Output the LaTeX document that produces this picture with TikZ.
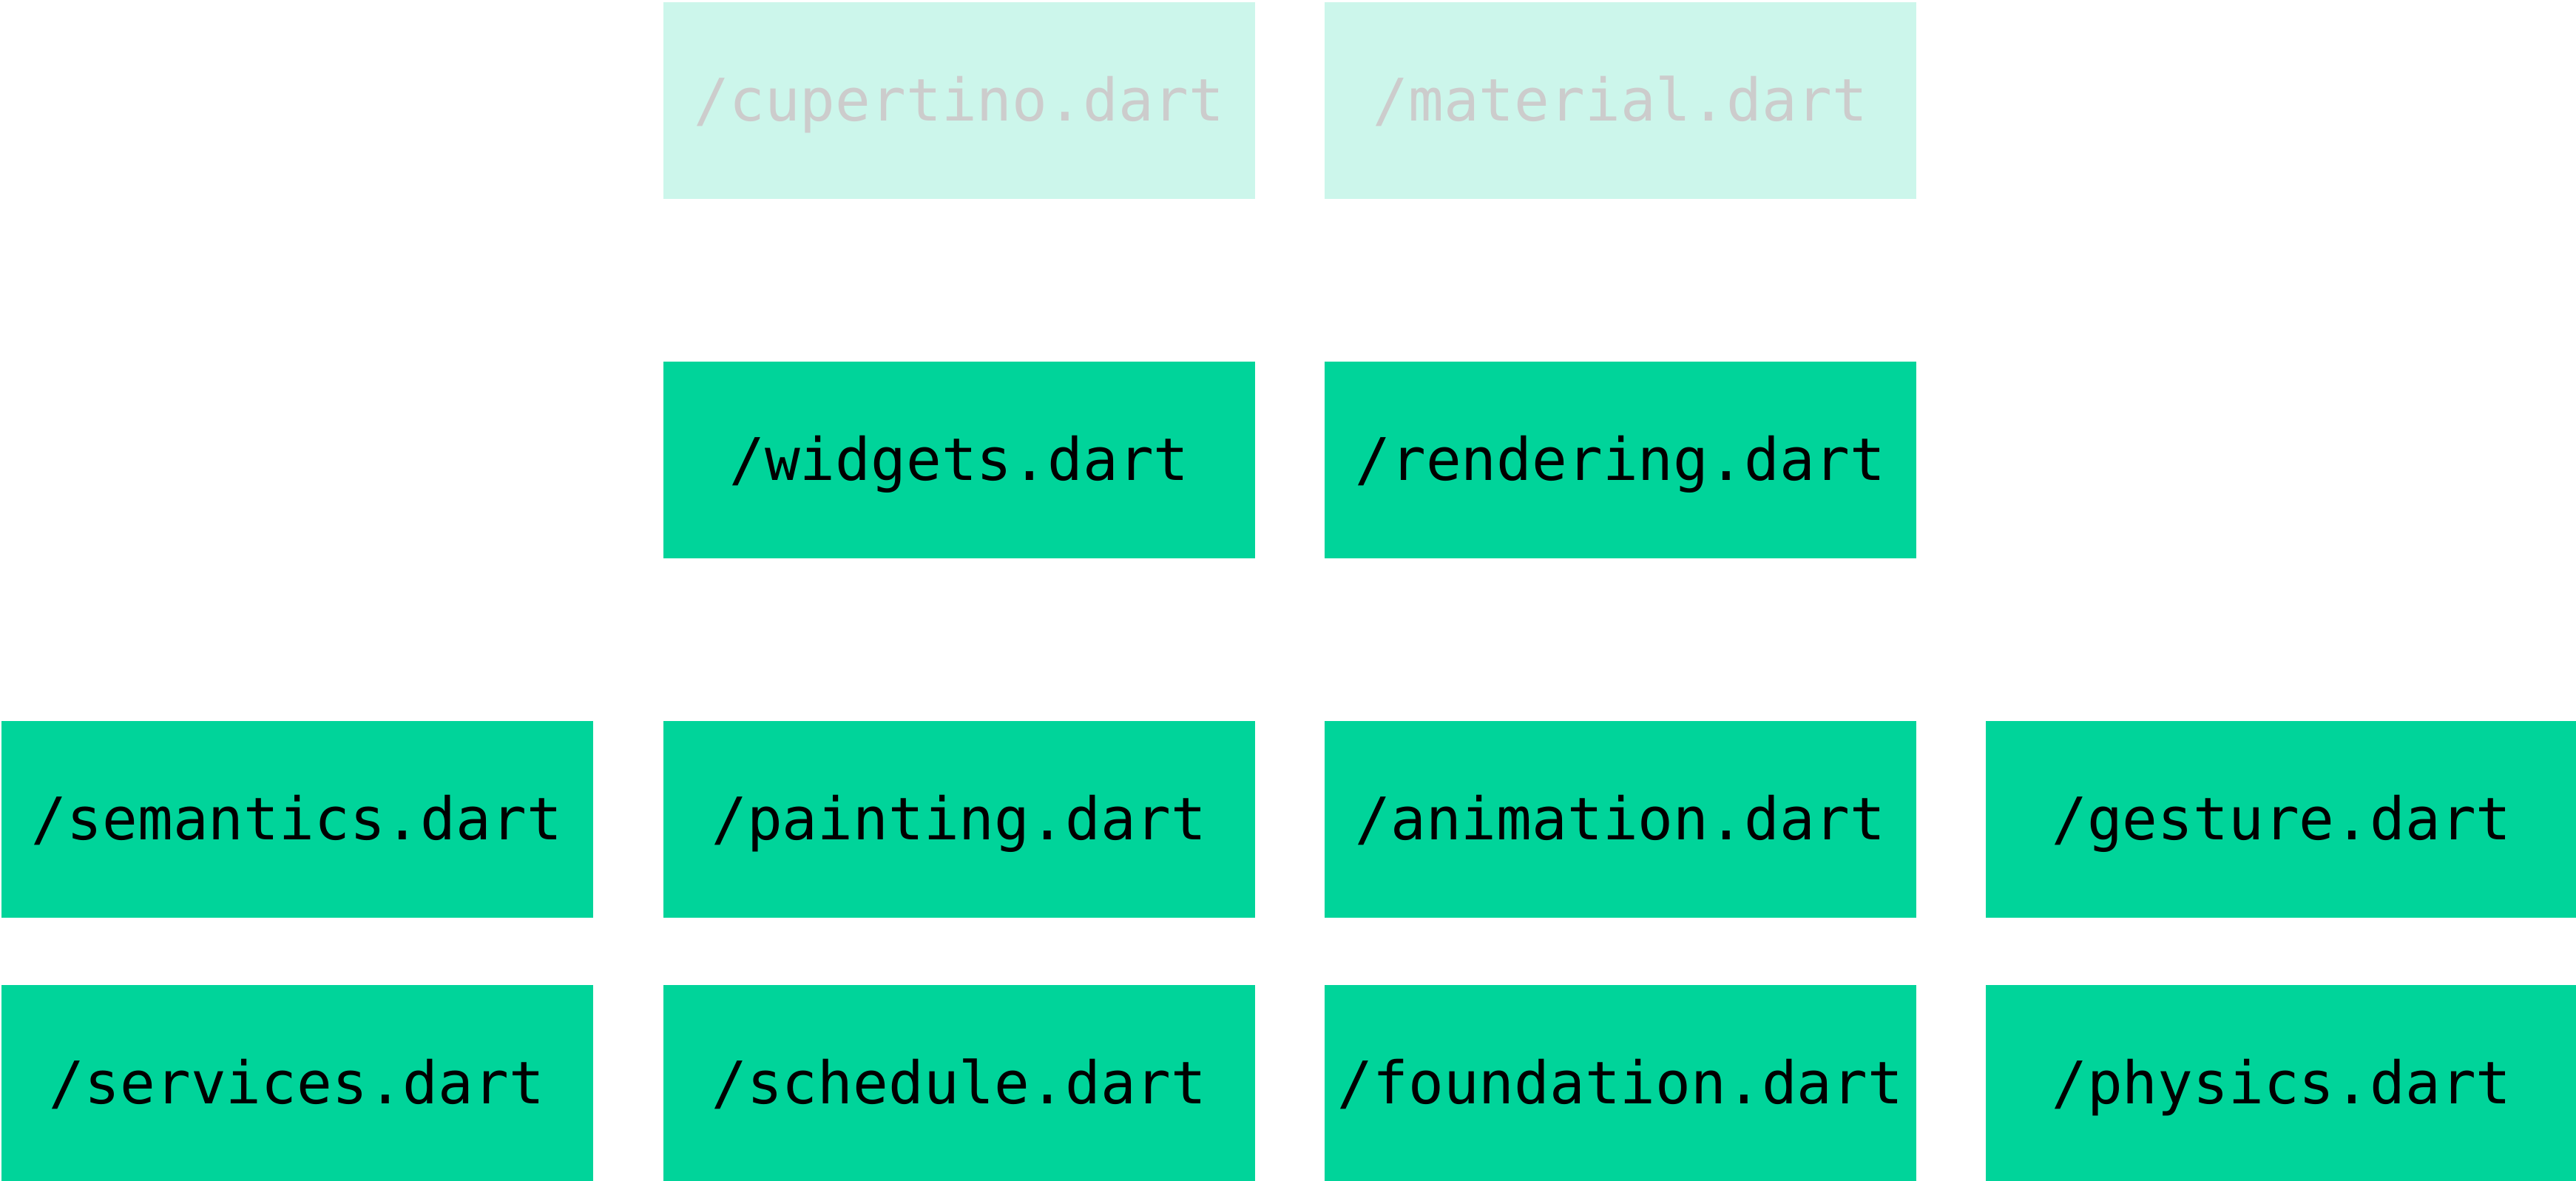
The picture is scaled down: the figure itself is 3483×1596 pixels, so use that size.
\documentclass[tikz,border=0pt]{standalone}
\usepackage{fontspec}
\newfontfamily\codefont{DejaVu Sans Mono}
\definecolor{flgreen}{HTML}{00D49A}
\definecolor{fllight}{HTML}{CCF6EB}
\definecolor{flgrey}{HTML}{CCCCCC}
\begin{document}
\begin{tikzpicture}[x=0.5pt,y=-0.5pt]
\useasboundingbox (0,0) rectangle (3483,1596);
\tikzset{
  box/.style={anchor=north west, fill=flgreen, draw=none, inner sep=0pt, outer sep=0pt,
    minimum width=400pt, minimum height=133pt, text height=30pt, text depth=3pt,
    font=\codefont\fontsize{39.7}{47}\selectfont, text=black},
  faded/.style={box, fill=fllight, text=flgrey}
}
% row 1
\node[faded] (cupertino) at (897,3) {/cupertino.dart};
\node[faded] (material) at (1791,3) {/material.dart};
% row 2
\node[box] (widgets) at (897,489) {/widgets.dart};
\node[box] (rendering) at (1791,489) {/rendering.dart};
% row 3
\node[box] (semantics) at (1.5,975) {/semantics.dart};
\node[box] (painting) at (897,975) {/painting.dart};
\node[box] (animation) at (1791,975) {/animation.dart};
\node[box] (gesture) at (2685,975) {/gesture.dart};
% row 4
\node[box] (services) at (1.5,1332) {/services.dart};
\node[box] (schedule) at (897,1332) {/schedule.dart};
\node[box] (foundation) at (1791,1332) {/foundation.dart};
\node[box] (physics) at (2685,1332) {/physics.dart};
\end{tikzpicture}
\end{document}
